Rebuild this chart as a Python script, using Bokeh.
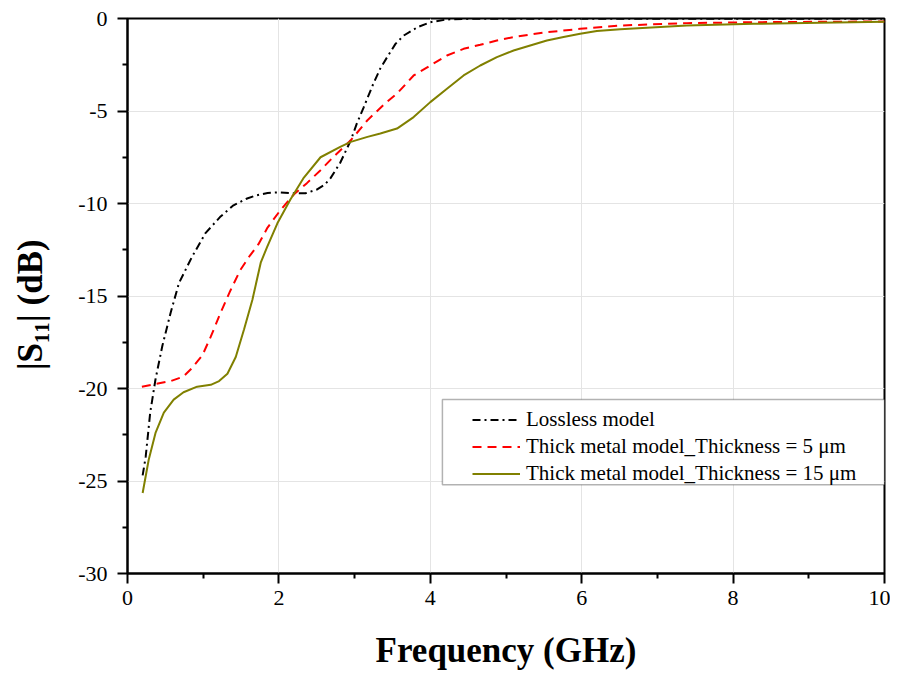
from bokeh.plotting import figure
from bokeh.models import (Legend, LegendItem, BoxAnnotation, FixedTicker, Range1d)
from bokeh.embed import file_html
from bokeh.resources import INLINE

# ---- data ----
lossless_f = [0.2, 0.24, 0.30, 0.37, 0.46, 0.57, 0.68, 0.85, 1.03, 1.23, 1.40, 1.58,
              1.71, 1.85, 2.0, 2.19, 2.35, 2.5, 2.6, 2.68, 2.81, 2.95, 3.03, 3.12,
              3.25, 3.34, 3.43, 3.54, 3.65, 3.83, 4.0, 4.22, 4.5, 4.75, 5.5, 7.0, 8.5, 10.0]
lossless_db = [-24.7, -23.7, -21.3, -19.5, -17.7, -15.9, -14.3, -12.9, -11.6, -10.7,
               -10.1, -9.73, -9.55, -9.43, -9.4, -9.45, -9.45, -9.25, -9.0, -8.64,
               -7.8, -6.58, -5.67, -4.8, -3.5, -2.7, -2.09, -1.37, -0.92, -0.47, -0.2,
               -0.05, -0.02, -0.01, -0.01, -0.01, -0.01, -0.01]

thick5_f = [0.19, 0.57, 0.74, 0.85, 0.99, 1.1, 1.23, 1.36, 1.49, 1.62, 1.73, 1.85, 2.02,
            2.2, 2.37, 2.55, 2.72, 2.95, 3.17, 3.4, 3.56, 3.78, 4.0, 4.22, 4.44, 4.66,
            4.88, 5.1, 5.54, 5.98, 6.51, 7.39, 8.27, 9.15, 10.0]
thick5_db = [-19.9, -19.6, -19.35, -18.9, -18.2, -17.2, -15.9, -14.7, -13.6, -12.8, -12.2,
             -11.3, -10.36, -9.5, -8.9, -8.2, -7.48, -6.58, -5.5, -4.6, -4.06, -3.08,
             -2.54, -2.0, -1.64, -1.42, -1.19, -1.0, -0.74, -0.56, -0.38, -0.25, -0.2,
             -0.18, -0.16]

thick15_f = [0.2, 0.28, 0.37, 0.48, 0.61, 0.74, 0.92, 1.1, 1.21, 1.32, 1.43, 1.54, 1.65,
             1.76, 1.845, 1.98, 2.15, 2.33, 2.55, 2.81, 2.95, 3.17, 3.34, 3.56, 3.78, 4.0,
             4.22, 4.44, 4.66, 4.88, 5.1, 5.32, 5.54, 5.76, 5.98, 6.2, 6.51, 7.39, 8.27,
             9.15, 10.0]
thick15_db = [-25.65, -23.85, -22.4, -21.3, -20.6, -20.2, -19.9, -19.8, -19.6, -19.2,
              -18.3, -16.8, -15.2, -13.2, -12.34, -11.07, -9.8, -8.6, -7.5, -6.94, -6.67,
              -6.4, -6.22, -5.95, -5.33, -4.52, -3.8, -3.08, -2.54, -2.09, -1.73, -1.46,
              -1.19, -1.0, -0.83, -0.68, -0.58, -0.38, -0.29, -0.23, -0.18]

x_ticks = [0, 2, 4, 6, 8, 10]
y_ticks = [-30, -25, -20, -15, -10, -5, 0]
x_minor = [1, 3, 5, 7, 9]
y_minor = [-27.5, -22.5, -17.5, -12.5, -7.5, -2.5]

labels = ["Lossless model",
          "Thick metal model_Thickness = 5 \u03bcm",
          "Thick metal model_Thickness = 15 \u03bcm"]

SERIF = "Liberation Serif"

p = figure(width=890, height=672, output_backend="svg", toolbar_location=None,
           x_range=Range1d(0, 10), y_range=Range1d(-30, 0),
           min_border_left=127, min_border_right=6, min_border_top=18,
           min_border_bottom=98)

p.outline_line_color = "black"
p.outline_line_width = 2

for ax in (p.xaxis[0], p.yaxis[0]):
    ax.axis_line_width = 2
    ax.axis_line_color = "black"
    ax.major_tick_line_width = 2
    ax.minor_tick_line_width = 2
    ax.major_tick_out = 10
    ax.major_tick_in = 0
    ax.minor_tick_out = 5
    ax.minor_tick_in = 0
    ax.major_label_text_font = SERIF
    ax.major_label_text_font_size = "22px"
    ax.major_label_text_color = "black"
    ax.axis_label_text_font = SERIF
    ax.axis_label_text_font_style = "bold"
    ax.axis_label_text_font_size = "35px"
    ax.axis_label_text_color = "black"

p.xaxis[0].ticker = FixedTicker(ticks=x_ticks, minor_ticks=x_minor)
p.yaxis[0].ticker = FixedTicker(ticks=y_ticks, minor_ticks=y_minor)
p.xaxis[0].major_label_overrides = {t: str(t) for t in x_ticks}
p.yaxis[0].major_label_overrides = {t: str(t) for t in y_ticks}
p.xaxis[0].axis_label = "Frequency (GHz)"
p.yaxis[0].axis_label = "|S\u2081\u2081| (dB)\u00a0\u00a0"
p.xaxis[0].major_label_standoff = 7
p.xaxis[0].axis_label_standoff = 23
p.yaxis[0].major_label_standoff = 10
p.yaxis[0].axis_label_standoff = 25

p.xgrid.grid_line_color = "#e4e4e4"
p.ygrid.grid_line_color = "#e4e4e4"
p.xgrid.grid_line_width = 1
p.ygrid.grid_line_width = 1

r1 = p.line(lossless_f, lossless_db, line_color="black", line_width=2,
            line_dash="8 4 2 4")
r2 = p.line(thick5_f, thick5_db, line_color="#ff0000", line_width=2,
            line_dash="9 6")
r3 = p.line(thick15_f, thick15_db, line_color="#808000", line_width=2)

box = BoxAnnotation(left=4.16, right=10, top=-20.6, bottom=-25.2,
                    fill_color="white", fill_alpha=1.0,
                    line_color="black", line_width=1.5)
p.add_layout(box)

legend = Legend(items=[LegendItem(label=labels[0], renderers=[r1]),
                       LegendItem(label=labels[1], renderers=[r2]),
                       LegendItem(label=labels[2], renderers=[r3])],
                location=(345, 86), padding=0, margin=0, spacing=0,
                glyph_width=48, glyph_height=27, label_height=27,
                label_standoff=6,
                label_text_font=SERIF, label_text_font_size="21px",
                label_text_color="black",
                background_fill_alpha=0, border_line_alpha=0)
p.add_layout(legend)

open("out.html", "w").write(file_html(p, INLINE))
